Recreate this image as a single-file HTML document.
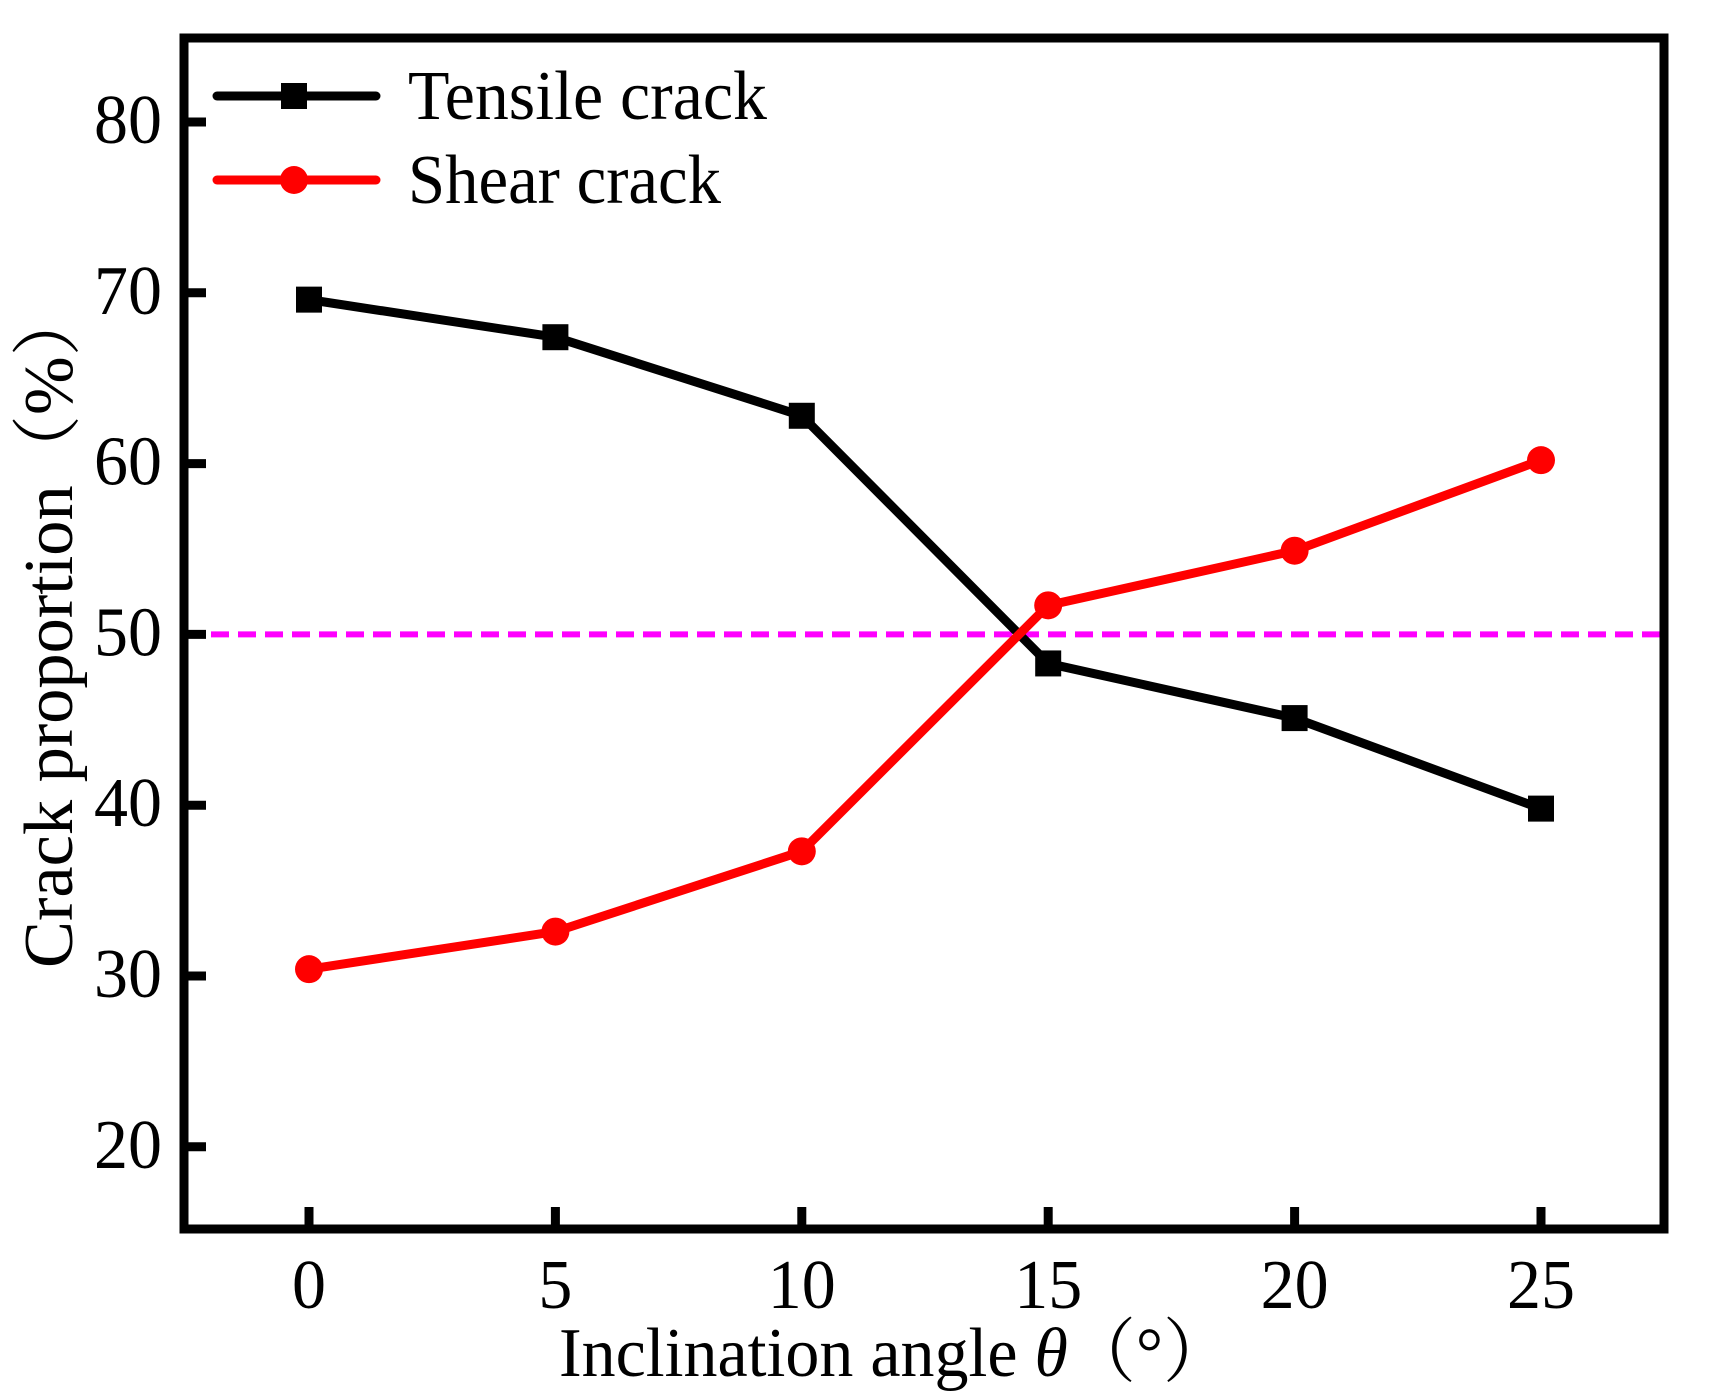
<!DOCTYPE html>
<html><head><meta charset="utf-8"><style>
html,body{margin:0;padding:0;background:#fff;}
svg{display:block;font-family:"Liberation Serif","Noto Serif CJK SC",serif;}
</style></head><body>
<svg id="chart" width="1715" height="1400" viewBox="0 0 1715 1400" xmlns="http://www.w3.org/2000/svg">
<g id="plot"></g>
</svg>
<script>
const categories = [0, 5, 10, 15, 20, 25];
const tensileValues = [69.6, 67.4, 62.8, 48.3, 45.1, 39.8];
const shearValues = [30.4, 32.6, 37.3, 51.7, 54.9, 60.2];
const yTickLabels = [20, 30, 40, 50, 60, 70, 80];
const xTickLabels = [0, 5, 10, 15, 20, 25];
const refValue = 50;

const NS = "http://www.w3.org/2000/svg";
const g = document.getElementById('plot');
const L = 184, R = 1664, T = 38, B = 1229;
function xs(v){ return 309 + v * (1541 - 309) / 25; }
function ys(v){ return 122 + (80 - v) * 17.08; }
function el(tag, attrs, parent){
  const e = document.createElementNS(NS, tag);
  for (const k in attrs) e.setAttribute(k, attrs[k]);
  (parent || g).appendChild(e);
  return e;
}
function tl(s){ return String(s).length > 1 ? 68 : 34; }
// ref line
let e = el('line', {x1:L, x2:R, y1:ys(refValue), y2:ys(refValue), stroke:'#ff00ff', 'stroke-width':6, 'stroke-dasharray':'18 9'});


// y ticks
yTickLabels.forEach(v => {
  const t = el('line', {x1:L, x2:L+22, y1:ys(v), y2:ys(v), stroke:'#000', 'stroke-width':9});
  
  
  const lb = el('text', {x:162, y:ys(v)+21, 'text-anchor':'end', 'font-size':70, textLength:tl(v), lengthAdjust:'spacingAndGlyphs'});
  lb.textContent = v;
  
  
});
// x ticks
xTickLabels.forEach(v => {
  const t = el('line', {x1:xs(v), x2:xs(v), y1:B, y2:B-22, stroke:'#000', 'stroke-width':9});
  
  
  const lb = el('text', {x:xs(v), y:1308, 'text-anchor':'middle', 'font-size':70, textLength:tl(v), lengthAdjust:'spacingAndGlyphs'});
  lb.textContent = v;
  
  
});
function series(vals, color, name, marker){
  const pts = vals.map((v,i) => xs(categories[i]) + ',' + ys(v)).join(' ');
  const p = el('polyline', {points:pts, fill:'none', stroke:color, 'stroke-width':9, 'stroke-linejoin':'round', 'stroke-linecap':'round'});
  
  
  vals.forEach((v,i) => {
    let m;
    if (marker === 'square') m = el('rect', {x:xs(categories[i])-13, y:ys(v)-13, width:26, height:26, fill:color});
    else m = el('circle', {cx:xs(categories[i]), cy:ys(v), r:14, fill:color});
    
    
  });
}
series(tensileValues, '#000', 'tensile-crack', 'square');
series(shearValues, '#ff0000', 'shear-crack', 'circle');
// frame
e = el('rect', {x:L, y:T, width:R-L, height:B-T, fill:'none', stroke:'#000', 'stroke-width':9});


// legend
const lg = el('g', {});


[['Tensile crack','#000','square',96,359],['Shear crack','#ff0000','circle',180,313]].forEach(d => {
  const ln = el('line', {x1:217, x2:376, y1:d[3], y2:d[3], stroke:d[1], 'stroke-width':9, 'stroke-linecap':'round'}, lg);
  
  
  let m;
  if (d[2]==='square') m = el('rect', {x:281, y:d[3]-13, width:26, height:26, fill:d[1]}, lg);
  else m = el('circle', {cx:294, cy:d[3], r:14, fill:d[1]}, lg);
  
  
  const tx = el('text', {x:408, y:d[3]+23, 'font-size':70, textLength:d[4], lengthAdjust:'spacingAndGlyphs'}, lg);
  tx.textContent = d[0];
  
  
});
// axis titles
e = el('text', {x:559, y:1376, 'font-size':70, textLength:672, lengthAdjust:'spacingAndGlyphs'});
e.innerHTML = 'Inclination angle <tspan font-style="italic">θ</tspan>（°）';


e = el('text', {x:0, y:0, 'text-anchor':'middle', 'font-size':70, textLength:682, lengthAdjust:'spacingAndGlyphs', transform:'translate(72,627) rotate(-90)'});
e.textContent = 'Crack proportion（%）';


</script>
</body></html>
